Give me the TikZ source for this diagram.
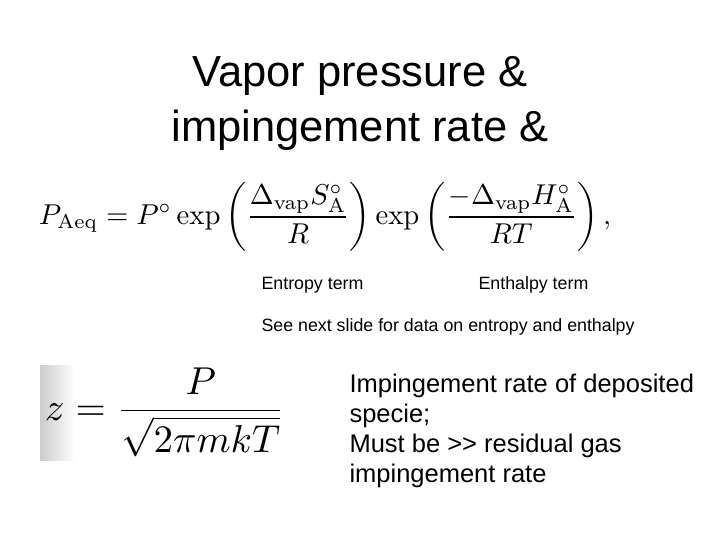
\documentclass[tikz,border=0pt]{standalone}
\usepackage{amsmath}
\usepackage[no-math]{fontspec}
\setmainfont{Liberation Sans}
\usepackage{graphicx}
\begin{document}
\begin{tikzpicture}[x=1pt,y=-1pt,
  title/.style={font=\fontsize{43.5}{55}\selectfont, align=center},
  small/.style={font=\fontsize{17.8}{21}\selectfont, anchor=west},
  body/.style={font=\fontsize{25.5}{30}\selectfont, align=left, anchor=north west}]
\useasboundingbox[fill=white] (0,0) rectangle (720,540);
\node[title] (t) at (360,103) {Vapor pressure \&\\impingement rate \&};
\node (eq) at (325,217) {\resizebox{572pt}{!}{$P_{\mathrm{Aeq}}=P^\circ\exp\left(\dfrac{\Delta_{\mathrm{vap}}S^\circ_{\mathrm{A}}}{R}\right)\exp\left(\dfrac{-\Delta_{\mathrm{vap}}H^\circ_{\mathrm{A}}}{RT}\right),$}};
\node[small] (en) at (258,285) {Entropy term};
\node[small] (eh) at (475,285) {Enthalpy term};
\node[small] (see) at (258,327) {See next slide for data on entropy and enthalpy};
\shade[left color=gray!40, right color=white] (40,365) rectangle (75,460);
\node (z) at (165,412) {\resizebox{240pt}{!}{$z=\dfrac{P}{\sqrt{2\pi mkT}}$}};
\node[body] (txt) at (346,370) {Impingement rate of deposited\\specie;\\Must be >{}> residual gas\\impingement rate};
\end{tikzpicture}
\end{document}
